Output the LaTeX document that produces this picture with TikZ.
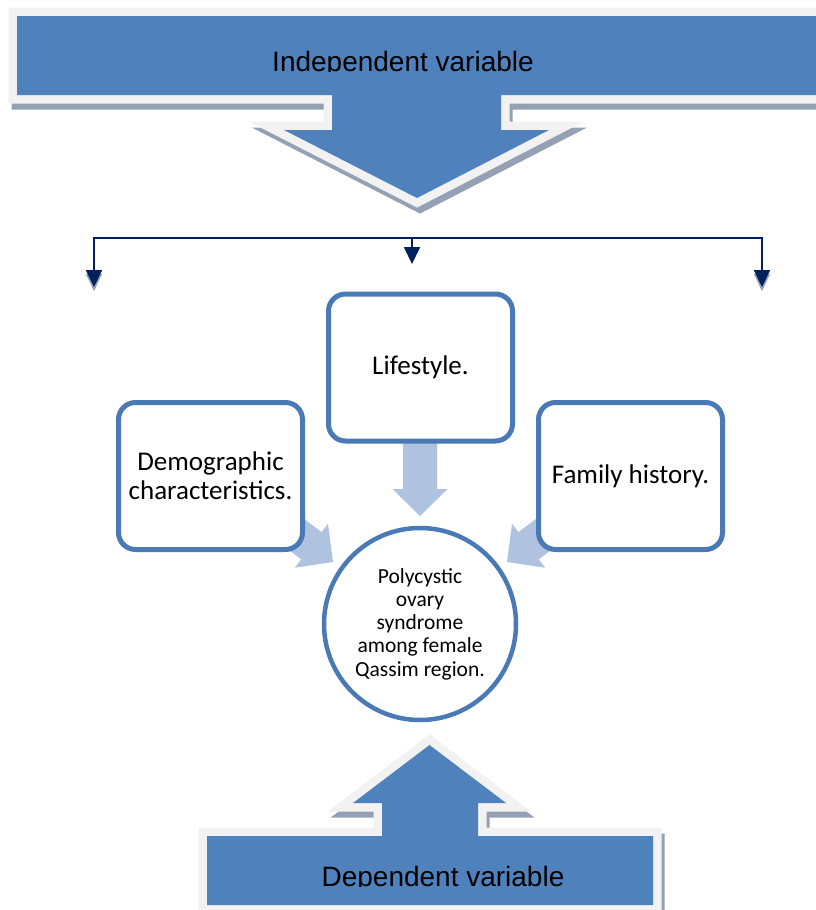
\documentclass[tikz,border=0pt]{standalone}
\usepackage{fontspec}
\setmainfont{Carlito}
\newfontfamily\calloutfont{Liberation Sans}
\usetikzlibrary{arrows.meta}
\definecolor{mainblue}{HTML}{4F81BD}
\definecolor{boxblue}{HTML}{4A7AB5}
\definecolor{paleedge}{HTML}{F2F2F2}
\definecolor{shadowgray}{HTML}{94A1B5}
\definecolor{lightarrow}{HTML}{AFC2DF}
\definecolor{navy}{HTML}{002060}
\tikzset{
  topcallout/.pic={\path[pic actions] (17,16) -- (840,16) -- (840,95) -- (501,95) -- (501,130) -- (549,130) -- (417,198) -- (284,130) -- (332,130) -- (332,95) -- (17,95) -- cycle;},
  bottomcallout/.pic={\path[pic actions] (207,905) -- (207,836) -- (382,836) -- (382,803) -- (353,803) -- (429.5,745) -- (506,803) -- (478,803) -- (478,836) -- (653,836) -- (653,905) -- cycle;},
  lightarr/.pic={\fill[lightarrow] (0,0) -- (-27,27.5) -- (-27,17) -- (-73,17) -- (-73,-17) -- (-27,-17) -- (-27,-27.5) -- cycle;},
  calloutshadow/.style={draw=shadowgray, fill=shadowgray, line width=17pt, line join=miter, miter limit=10},
  calloutedge/.style={draw=paleedge, fill=paleedge, line width=17pt, line join=miter, miter limit=10},
  calloutfill/.style={fill=mainblue},
  callouttext/.style={anchor=base, font=\calloutfont\fontsize{28}{30}\selectfont, inner sep=0pt},
  factorbox/.style={draw=boxblue, line width=5pt, fill=white, rounded corners=17pt, minimum width=184pt, minimum height=147pt, align=center, font=\fontsize{27}{29}\selectfont, inner sep=0pt},
  outcome/.style={circle, draw=boxblue, line width=4.5pt, fill=white, minimum size=192pt, align=center, font=\fontsize{21.5}{23.3}\selectfont, inner sep=0pt},
  navyline/.style={draw=navy, line width=2pt},
  navyhead/.tip={Triangle[width=16pt,length=17pt]},
  navytip/.style={-navyhead},
  shadowtip/.style={draw=shadowgray, line width=1pt, -navyhead}
}
\begin{document}
\begin{tikzpicture}[x=1pt,y=-1pt]
\useasboundingbox (0,0) rectangle (816,910);
\fill[white] (0,0) rectangle (816,910);
% top callout
\pic[calloutshadow] at (3,6) {topcallout};
\pic[calloutedge] at (0,0) {topcallout};
\pic[calloutfill] at (0,0) {topcallout};
\begin{scope}
  \clip (0,0) rectangle (816,71);
  \node[callouttext] (indep) at (403,71) {Independent variable};
\end{scope}
% bottom callout
\pic[calloutshadow] at (3,6) {bottomcallout};
\pic[calloutedge] at (0,0) {bottomcallout};
\pic[calloutfill] at (0,0) {bottomcallout};
\begin{scope}
  \clip (0,0) rectangle (816,886);
  \node[callouttext] (dep) at (443,886.5) {Dependent variable};
\end{scope}
% bracket connectors
\coordinate (bL) at (94,238);
\coordinate (bM) at (412,238);
\coordinate (bR) at (762,238);
\coordinate (tL) at (94,287);
\coordinate (tM) at (412,264);
\coordinate (tR) at (762,287);
\coordinate (sLa) at (94,270);
\coordinate (sLb) at (94,291);
\coordinate (sRa) at (762,270);
\coordinate (sRb) at (762,291);
\draw[shadowtip] (sLa) -- (sLb);
\draw[shadowtip] (sRa) -- (sRb);
\draw[navyline, navyhead-navyhead] (tL) -- (bL) -- (bR) -- (tR);
\draw[navyline, navytip] (bM) -- (tM);
% light arrows
\pic[rotate=-90] at (420,516) {lightarr};
\pic[rotate=-37] at (333,562) {lightarr};
\pic[rotate=-143] at (507,562) {lightarr};
% factor boxes
\node[factorbox] (life) at (420.5,367.5) {Lifestyle.};
\node[factorbox] (demo) at (210.5,476) {Demographic\\characteristics.};
\node[factorbox] (fam) at (630.5,476) {Family history.};
% outcome
\node[outcome] (pcos) at (420,624) {Polycystic\\ovary\\syndrome\\among female\\Qassim region.};
\end{tikzpicture}
\end{document}
